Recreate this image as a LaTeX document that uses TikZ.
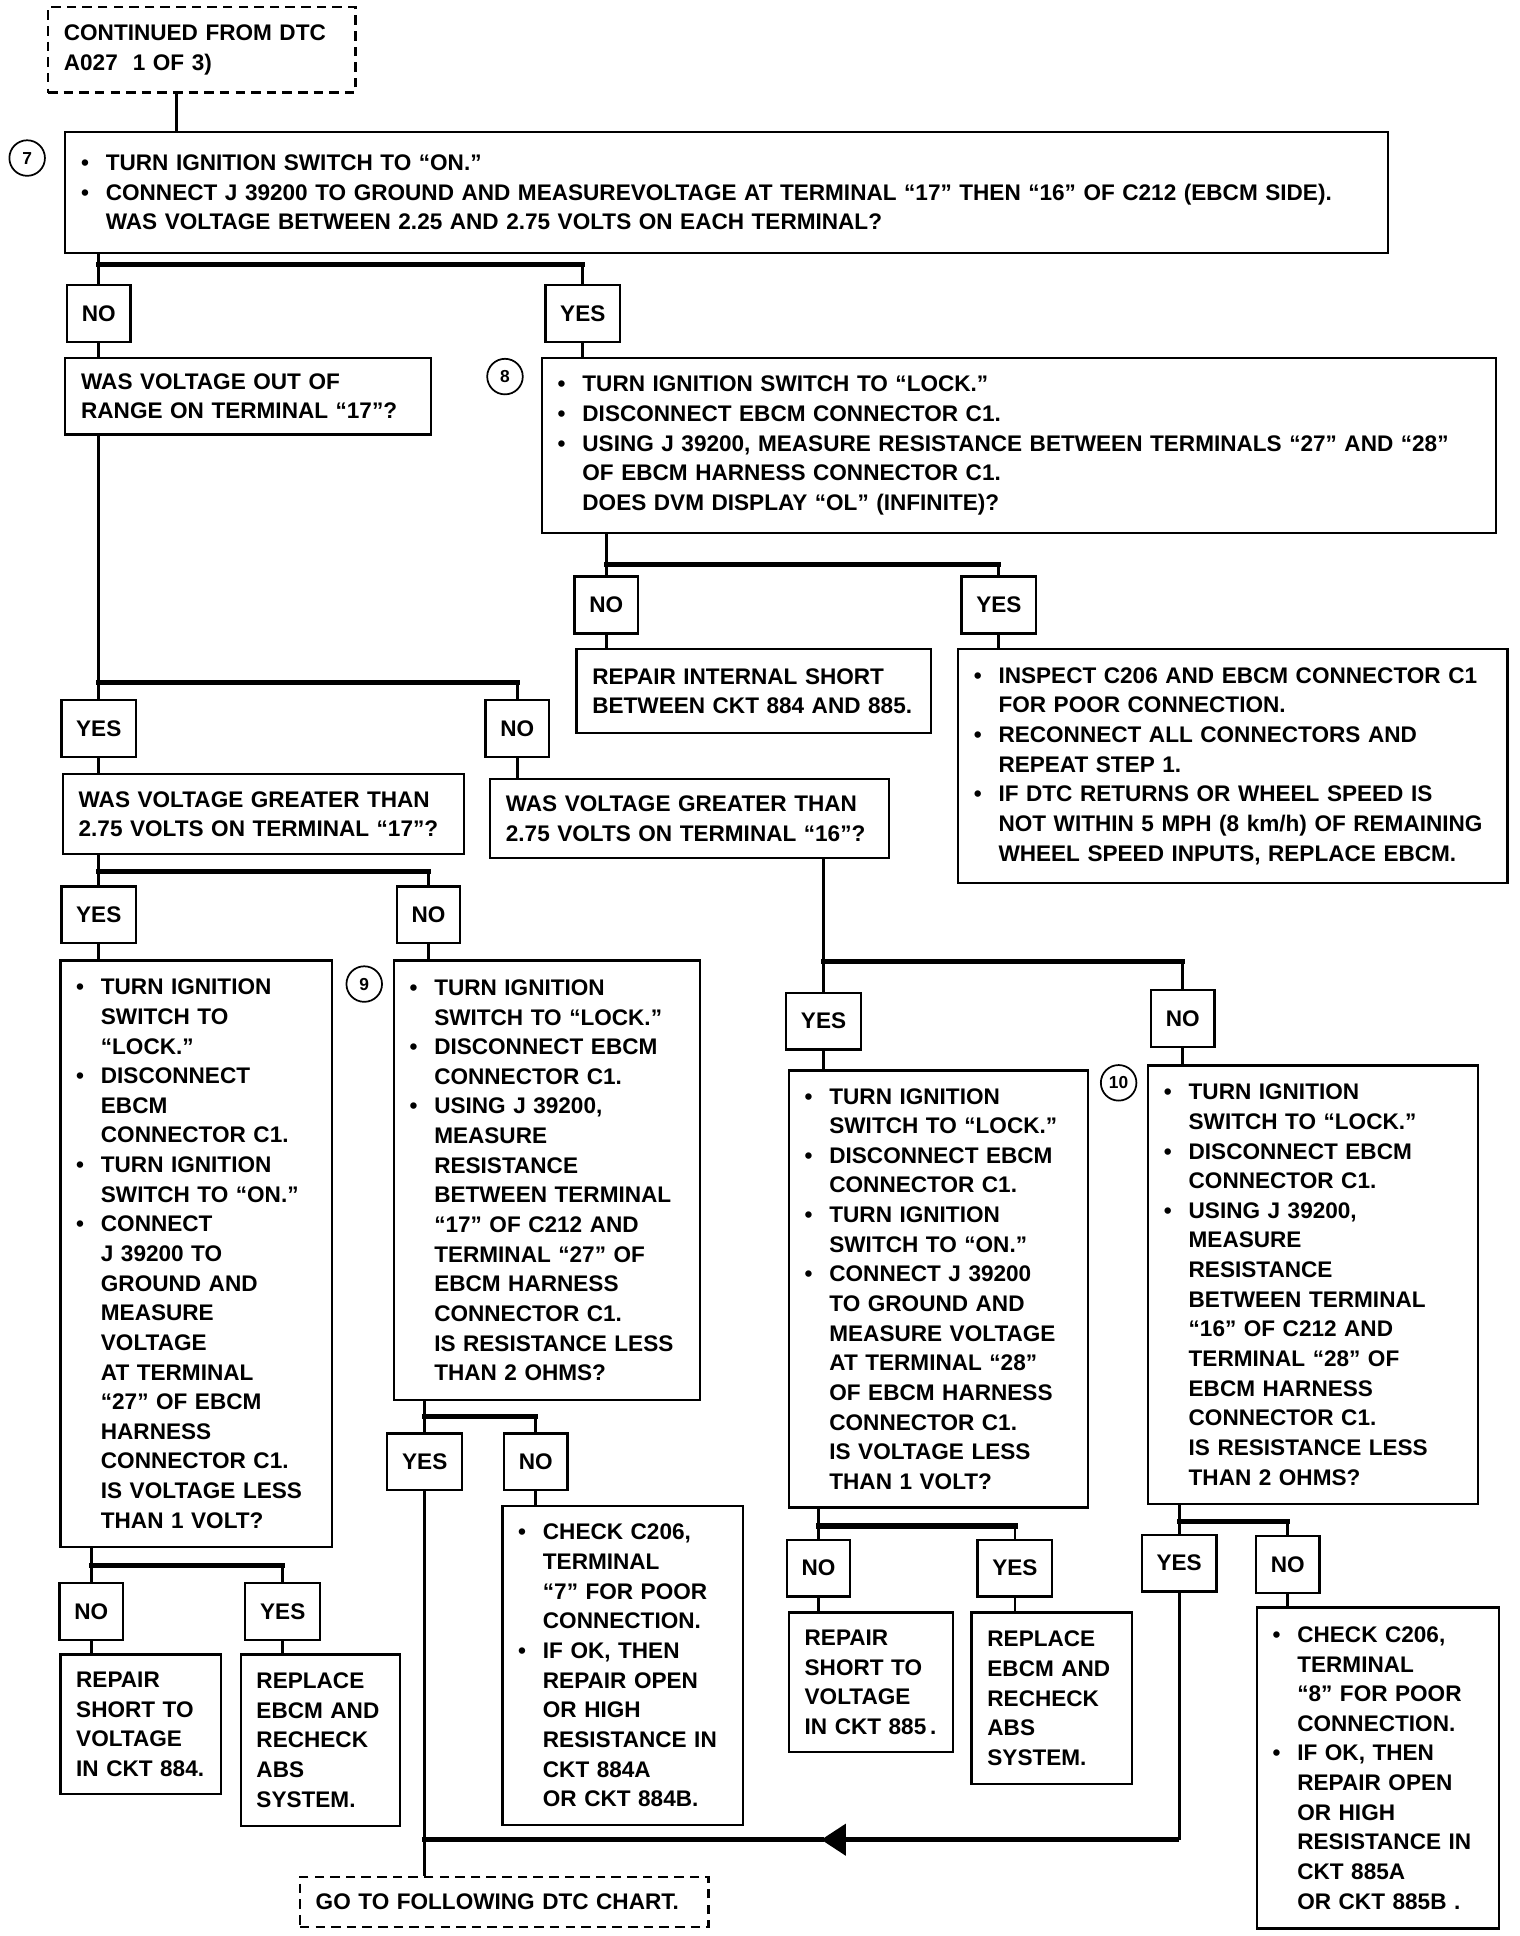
\documentclass[tikz,border=0pt]{standalone}
\usepackage{fontspec}
\setmainfont{Liberation Sans}
\usetikzlibrary{arrows.meta, positioning, calc}

\newcommand{\bpt}{\makebox[0.5cm][l]{\textbullet}}
\newcommand{\bsp}{\hspace*{0.5cm}}

\tikzset{
  chart/.style={font=\fontsize{13}{17.07}\selectfont\bfseries},
  stepbox/.style={draw, line width=1.3pt, anchor=north west, align=left,
    inner xsep=0.32cm, inner ysep=0pt},
  dashbox/.style={stepbox, dash pattern=on 5.5pt off 3.5pt},
  boxsize/.style 2 args={minimum width=#1*0.025cm, minimum height=#2*0.025cm,
    text width=#1*0.025cm-0.64cm},
  ansbox/.style={draw, line width=1.3pt, inner xsep=0.3cm, inner ysep=0pt,
    minimum height=1.15cm},
  stepnum/.style={circle, draw, line width=1pt, minimum size=0.72cm, inner sep=0pt,
    font=\fontsize{10}{12}\selectfont\bfseries},
  link/.style={line width=1.6pt},
  bar/.style={line width=3pt, line cap=rect},
  flow/.style={line width=3pt, -{Triangle[length=0.5cm, width=0.62cm]}},
}

\begin{document}
\begin{tikzpicture}[x=0.025cm, y=-0.025cm, every node/.style={chart}]
  \useasboundingbox (0,0) rectangle (1231,1568);

  % start and step 7
  \node[dashbox, boxsize={249}{69}] (start) at (38,5)
    {CONTINUED FROM DTC\\A027\ \ 1 OF 3)};
  \node[stepnum] (c7) at (22,128) {7};
  \node[stepbox, boxsize={1071}{98}] (s7) at (52,106)
    {\bpt TURN IGNITION SWITCH TO “ON.”\\
     \bpt CONNECT J 39200 TO GROUND AND MEASUREVOLTAGE AT TERMINAL “17” THEN “16” OF C212 (EBCM SIDE).\\
     \bsp WAS VOLTAGE BETWEEN 2.25 AND 2.75 VOLTS ON EACH TERMINAL?};

  \node[ansbox] (no1) at (80,254) {NO};
  \node[ansbox] (yes1) at (472,254) {YES};

  \node[stepbox, boxsize={296}{62}] (q17out) at (52,289)
    {WAS VOLTAGE OUT OF\\RANGE ON TERMINAL “17”?};

  % step 8
  \node[stepnum] (c8) at (409,305) {8};
  \node[stepbox, boxsize={773}{142}] (s8) at (438,289)
    {\bpt TURN IGNITION SWITCH TO “LOCK.”\\
     \bpt DISCONNECT EBCM CONNECTOR C1.\\
     \bpt USING J 39200, MEASURE RESISTANCE BETWEEN TERMINALS “27” AND “28”\\
     \bsp OF EBCM HARNESS CONNECTOR C1.\\
     \bsp DOES DVM DISPLAY “OL” (INFINITE)?};

  \node[ansbox] (no2) at (491,490) {NO};
  \node[ansbox] (yes2) at (809,490) {YES};
  \node[stepbox, boxsize={287}{68}] (rint) at (466,525)
    {REPAIR INTERNAL SHORT\\BETWEEN CKT 884 AND 885.};
  \node[stepbox, boxsize={445}{189}] (insp) at (775,525)
    {\bpt INSPECT C206 AND EBCM CONNECTOR C1\\
     \bsp FOR POOR CONNECTION.\\
     \bpt RECONNECT ALL CONNECTORS AND\\
     \bsp REPEAT STEP 1.\\
     \bpt IF DTC RETURNS OR WHEEL SPEED IS\\
     \bsp NOT WITHIN 5 MPH (8 km/h) OF REMAINING\\
     \bsp WHEEL SPEED INPUTS, REPLACE EBCM.};

  % terminal 17 / 16 questions
  \node[ansbox] (yes3) at (80,590) {YES};
  \node[ansbox] (no3) at (419,590) {NO};
  \node[stepbox, boxsize={325}{65}] (qg17) at (50,626)
    {WAS VOLTAGE GREATER THAN\\2.75 VOLTS ON TERMINAL “17”?};
  \node[stepbox, boxsize={323}{64}] (qg16) at (396,630)
    {WAS VOLTAGE GREATER THAN\\2.75 VOLTS ON TERMINAL “16”?};

  \node[ansbox] (yes4) at (80,741) {YES};
  \node[ansbox] (no4) at (347,741) {NO};
  \node[ansbox] (yes5) at (667,827) {YES};
  \node[ansbox] (no5) at (958,825) {NO};

  \node[stepbox, boxsize={220}{475}] (v27) at (48,777)
    {\bpt TURN IGNITION\\ \bsp SWITCH TO\\ \bsp “LOCK.”\\
     \bpt DISCONNECT\\ \bsp EBCM\\ \bsp CONNECTOR C1.\\
     \bpt TURN IGNITION\\ \bsp SWITCH TO “ON.”\\
     \bpt CONNECT\\ \bsp J 39200 TO\\ \bsp GROUND AND\\ \bsp MEASURE\\
     \bsp VOLTAGE\\ \bsp AT TERMINAL\\ \bsp “27” OF EBCM\\ \bsp HARNESS\\
     \bsp CONNECTOR C1.\\ \bsp IS VOLTAGE LESS\\ \bsp THAN 1 VOLT?};

  % step 9
  \node[stepnum] (c9) at (295,797) {9};
  \node[stepbox, boxsize={248}{356}] (s9) at (318,777)
    {\bpt TURN IGNITION\\ \bsp SWITCH TO “LOCK.”\\
     \bpt DISCONNECT EBCM\\ \bsp CONNECTOR C1.\\
     \bpt USING J 39200,\\ \bsp MEASURE\\ \bsp RESISTANCE\\
     \bsp BETWEEN TERMINAL\\ \bsp “17” OF C212 AND\\ \bsp TERMINAL “27” OF\\
     \bsp EBCM HARNESS\\ \bsp CONNECTOR C1.\\ \bsp IS RESISTANCE LESS\\
     \bsp THAN 2 OHMS?};

  \node[stepbox, boxsize={242}{354}] (v28) at (638,866)
    {\bpt TURN IGNITION\\ \bsp SWITCH TO “LOCK.”\\
     \bpt DISCONNECT EBCM\\ \bsp CONNECTOR C1.\\
     \bpt TURN IGNITION\\ \bsp SWITCH TO “ON.”\\
     \bpt CONNECT J 39200\\ \bsp TO GROUND AND\\ \bsp MEASURE VOLTAGE\\
     \bsp AT TERMINAL “28”\\ \bsp OF EBCM HARNESS\\ \bsp CONNECTOR C1.\\
     \bsp IS VOLTAGE LESS\\ \bsp THAN 1 VOLT?};

  % step 10
  \node[stepnum] (c10) at (906,877) {10};
  \node[stepbox, boxsize={267}{355}] (s10) at (929,862)
    {\bpt TURN IGNITION\\ \bsp SWITCH TO “LOCK.”\\
     \bpt DISCONNECT EBCM\\ \bsp CONNECTOR C1.\\
     \bpt USING J 39200,\\ \bsp MEASURE\\ \bsp RESISTANCE\\
     \bsp BETWEEN TERMINAL\\ \bsp “16” OF C212 AND\\ \bsp TERMINAL “28” OF\\
     \bsp EBCM HARNESS\\ \bsp CONNECTOR C1.\\ \bsp IS RESISTANCE LESS\\
     \bsp THAN 2 OHMS?};

  % results
  \node[ansbox] (no6) at (74,1305) {NO};
  \node[ansbox] (yes6) at (229,1305) {YES};
  \node[stepbox, boxsize={130}{113}] (r884) at (48,1339)
    {REPAIR\\SHORT TO\\VOLTAGE\\\mbox{IN CKT 884.}};
  \node[stepbox, boxsize={129}{139}] (rpl1) at (194,1339)
    {REPLACE\\EBCM AND\\RECHECK\\ABS\\SYSTEM.};

  \node[ansbox] (yes7) at (344,1184) {YES};
  \node[ansbox] (no7) at (434,1184) {NO};
  \node[stepbox, boxsize={195}{258}] (chk7) at (406,1219)
    {\bpt CHECK C206,\\ \bsp TERMINAL\\ \bsp “7” FOR POOR\\ \bsp CONNECTION.\\
     \bpt IF OK, THEN\\ \bsp REPAIR OPEN\\ \bsp OR HIGH\\ \bsp RESISTANCE IN\\
     \bsp CKT 884A\\ \bsp OR CKT 884B.};

  \node[ansbox] (no8) at (663,1270) {NO};
  \node[ansbox] (yes8) at (822,1270) {YES};
  \node[stepbox, boxsize={133}{113}] (r885) at (638,1305)
    {REPAIR\\SHORT TO\\VOLTAGE\\\mbox{IN CKT 885\,.}};
  \node[stepbox, boxsize={130}{139}] (rpl2) at (786,1305)
    {REPLACE\\EBCM AND\\RECHECK\\ABS\\SYSTEM.};

  \node[ansbox] (yes9) at (955,1266) {YES};
  \node[ansbox] (no9) at (1043,1267) {NO};
  \node[stepbox, boxsize={196}{260}] (chk8) at (1017,1301)
    {\bpt CHECK C206,\\ \bsp TERMINAL\\ \bsp “8” FOR POOR\\ \bsp CONNECTION.\\
     \bpt IF OK, THEN\\ \bsp REPAIR OPEN\\ \bsp OR HIGH\\ \bsp RESISTANCE IN\\
     \bsp CKT 885A\\ \bsp OR CKT 885B .};

  \node[dashbox, boxsize={331}{41}] (goto) at (242,1519)
    {GO TO FOLLOWING DTC CHART.};

  % branch points
  \coordinate (b7) at (no1.north |- 0,214);
  \coordinate (b17) at (yes3.north |- 0,553);
  \coordinate (b8) at (no2.north |- 0,457);
  \coordinate (bg17) at (yes4.north |- 0,706);
  \coordinate (bg16) at (yes5.north |- 0,779);
  \coordinate (b27) at (no6.north |- 0,1268);
  \coordinate (b9) at (yes7.north |- 0,1147);
  \coordinate (b28) at (no8.north |- 0,1236);
  \coordinate (b10) at (yes9.north |- 0,1232);
  \coordinate (tip) at (665,1490);

  % connectors
  \draw[link] (start.south -| 143,0) -- (s7.north -| 143,0);

  \draw[link] (no1.north |- s7.south) -- (no1.north);
  \draw[bar] (b7) -- (b7 -| yes1.north);
  \draw[link] (b7 -| yes1.north) -- (yes1.north);
  \draw[link] (no1.south) -- (no1.south |- q17out.north);
  \draw[link] (yes1.south) -- (yes1.south |- s8.north);

  \draw[link] (yes3.north |- q17out.south) -- (yes3.north);
  \draw[bar] (b17) -- (b17 -| no3.north);
  \draw[link] (b17 -| no3.north) -- (no3.north);
  \draw[link] (yes3.south) -- (yes3.south |- qg17.north);
  \draw[link] (no3.south) -- (no3.south |- qg16.north);

  \draw[link] (no2.north |- s8.south) -- (no2.north);
  \draw[bar] (b8) -- (b8 -| yes2.north);
  \draw[link] (b8 -| yes2.north) -- (yes2.north);
  \draw[link] (no2.south) -- (no2.south |- rint.north);
  \draw[link] (yes2.south) -- (yes2.south |- insp.north);

  \draw[link] (yes4.north |- qg17.south) -- (yes4.north);
  \draw[bar] (bg17) -- (bg17 -| no4.north);
  \draw[link] (bg17 -| no4.north) -- (no4.north);
  \draw[link] (yes4.south) -- (yes4.south |- v27.north);
  \draw[link] (no4.south) -- (no4.south |- s9.north);

  \draw[link] (yes5.north |- qg16.south) -- (yes5.north);
  \draw[bar] (bg16) -- (bg16 -| no5.north);
  \draw[link] (bg16 -| no5.north) -- (no5.north);
  \draw[link] (yes5.south) -- (yes5.south |- v28.north);
  \draw[link] (no5.south) -- (no5.south |- s10.north);

  \draw[link] (no6.north |- v27.south) -- (no6.north);
  \draw[bar] (b27) -- (b27 -| yes6.north);
  \draw[link] (b27 -| yes6.north) -- (yes6.north);
  \draw[link] (no6.south) -- (no6.south |- r884.north);
  \draw[link] (yes6.south) -- (yes6.south |- rpl1.north);

  \draw[link] (yes7.north |- s9.south) -- (yes7.north);
  \draw[bar] (b9) -- (b9 -| no7.north);
  \draw[link] (b9 -| no7.north) -- (no7.north);
  \draw[link] (no7.south) -- (no7.south |- chk7.north);
  \draw[link] (yes7.south) -- (yes7.south |- goto.north);

  \draw[link] (no8.north |- v28.south) -- (no8.north);
  \draw[bar] (b28) -- (b28 -| yes8.north);
  \draw[link] (b28 -| yes8.north) -- (yes8.north);
  \draw[link] (no8.south) -- (no8.south |- r885.north);
  \draw[link] (yes8.south) -- (yes8.south |- rpl2.north);

  \draw[link] (yes9.north |- s10.south) -- (yes9.north);
  \draw[bar] (b10) -- (b10 -| no9.north);
  \draw[link] (b10 -| no9.north) -- (no9.north);
  \draw[link] (no9.south) -- (no9.south |- chk8.north);

  \draw[link] (yes9.south) -- (yes9.south |- tip);
  \draw[flow] (yes9.south |- tip) -- (tip);
  \draw[bar] (tip) -- (tip -| yes7.south);
\end{tikzpicture}
\end{document}
